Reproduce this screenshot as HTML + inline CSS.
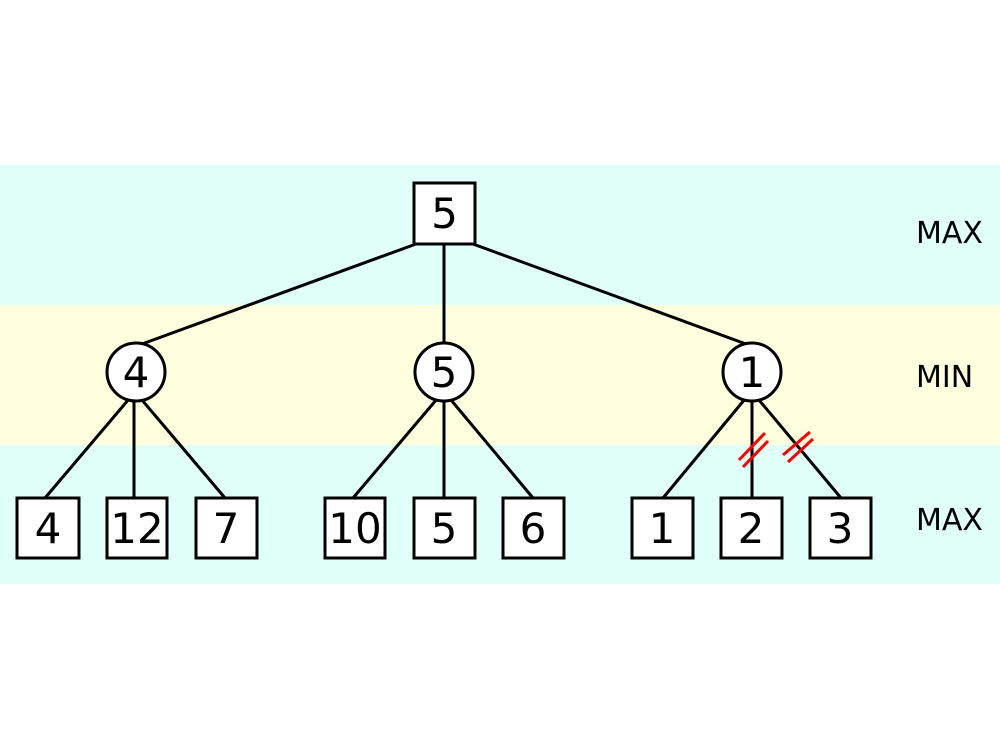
<!DOCTYPE html>
<html><head><style>html,body{margin:0;padding:0;background:#fff}svg{display:block}</style></head>
<body>
<svg width="1000" height="750" xmlns="http://www.w3.org/2000/svg" font-family="'DejaVu Sans','Liberation Sans',sans-serif">
<rect x="0" y="165" width="1000" height="140" fill="#e0fff8"/>
<rect x="0" y="305" width="1000" height="140" fill="#ffffe0"/>
<rect x="0" y="445" width="1000" height="139" fill="#e0fff8"/>
<g stroke="#000" stroke-width="3" fill="none">
<line x1="416" y1="244" x2="142" y2="344"/>
<line x1="444" y1="244" x2="444" y2="344"/>
<line x1="473" y1="244" x2="746" y2="344"/>
<line x1="129" y1="399" x2="45" y2="498"/>
<line x1="134" y1="401" x2="134" y2="498"/>
<line x1="142" y1="400" x2="225" y2="498"/>
<line x1="437" y1="399" x2="353" y2="498"/>
<line x1="444" y1="401" x2="444" y2="498"/>
<line x1="451" y1="400" x2="533" y2="498"/>
<line x1="745" y1="399" x2="663" y2="498"/>
<line x1="752" y1="401" x2="752" y2="498"/>
<line x1="759" y1="400" x2="841" y2="498"/>
</g>
<g stroke="#f00" stroke-width="3">
<line x1="739" y1="460" x2="765" y2="433"/>
<line x1="743" y1="467" x2="768" y2="441"/>
<line x1="783" y1="455" x2="810" y2="432"/>
<line x1="788" y1="462" x2="813" y2="439"/>
</g>
<g stroke="#000" stroke-width="3" fill="#fff">
<rect x="414" y="183" width="61" height="61"/>
<circle cx="136" cy="372" r="29"/>
<circle cx="444" cy="372" r="29"/>
<circle cx="752" cy="372" r="29"/>
<rect x="17" y="498" width="62" height="60"/>
<rect x="107" y="498" width="60" height="60"/>
<rect x="196" y="498" width="61" height="60"/>
<rect x="325" y="498" width="60" height="60"/>
<rect x="414" y="498" width="61" height="60"/>
<rect x="503" y="498" width="61" height="60"/>
<rect x="632" y="498" width="61" height="60"/>
<rect x="721" y="498" width="61" height="60"/>
<rect x="810" y="498" width="61" height="60"/>
</g>
<g font-size="42" text-anchor="middle" fill="#000">
<text x="444.5" y="228">5</text>
<text x="136" y="387">4</text>
<text x="444" y="387">5</text>
<text x="752" y="387">1</text>
<text x="48" y="543">4</text>
<text x="137" y="543">12</text>
<text x="226" y="543">7</text>
<text x="355" y="543">10</text>
<text x="444" y="543">5</text>
<text x="533" y="543">6</text>
<text x="662" y="543">1</text>
<text x="751" y="543">2</text>
<text x="840" y="543">3</text>
</g>
<g font-size="30" fill="#000">
<text x="916" y="243">MAX</text>
<text x="916" y="387">MIN</text>
<text x="916" y="530">MAX</text>
</g>
</svg>
</body></html>
